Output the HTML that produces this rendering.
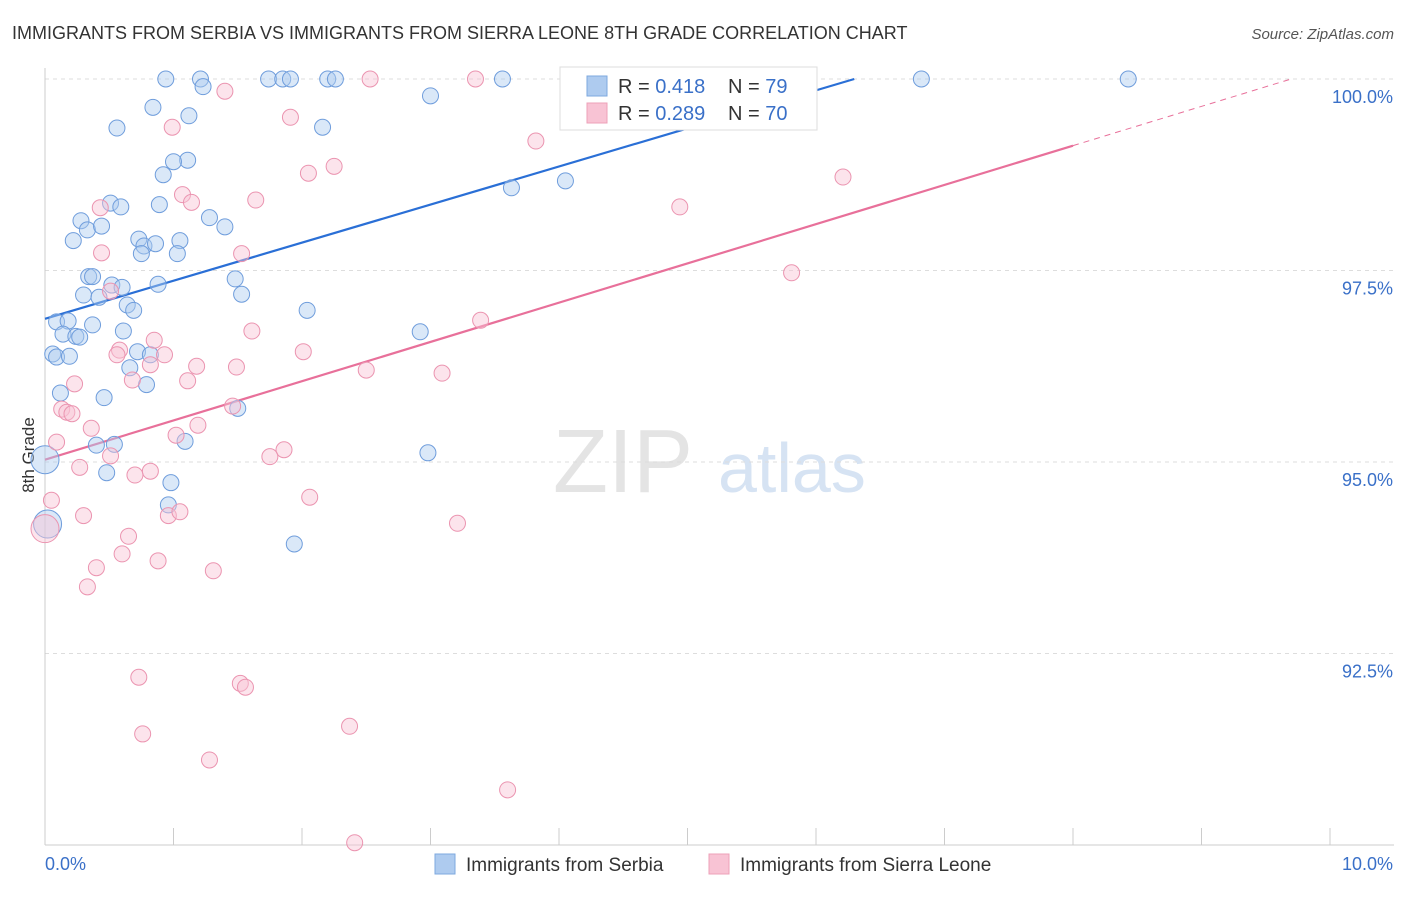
<!DOCTYPE html>
<html><head><meta charset="utf-8"><style>
body{margin:0;background:#fff;font-family:"Liberation Sans",sans-serif;}
svg text{font-family:"Liberation Sans",sans-serif;}
</style></head><body>
<svg id="chart" width="1406" height="892" xmlns="http://www.w3.org/2000/svg">
<text x="12" y="39" font-size="18" fill="#333">IMMIGRANTS FROM SERBIA VS IMMIGRANTS FROM SIERRA LEONE 8TH GRADE CORRELATION CHART</text>
<text x="1394" y="39" font-size="15" fill="#555" font-style="italic" text-anchor="end">Source: ZipAtlas.com</text>
<text x="34" y="455" font-size="17" fill="#333" transform="rotate(-90 34 455)" text-anchor="middle">8th Grade</text>
<g>
<text x="553" y="492" font-size="90" fill="#e4e4e4" font-family="Liberation Serif">ZIP</text>
<text x="718" y="492" font-size="70" fill="#d6e3f3">atlas</text>
</g>
<g id="grid"></g><g id="axes"></g><g id="trends"></g><g id="pts"></g>
<g>
<rect x="560" y="67" width="257" height="63" fill="#fff" stroke="#ddd"/>
<rect x="587" y="76" width="20" height="20" fill="#aecbef" stroke="#7ea8df"/>
<rect x="587" y="103" width="20" height="20" fill="#f8c3d4" stroke="#eea0b8"/>
<text x="618" y="93" font-size="20" fill="#333">R = <tspan fill="#3a70c8">0.418</tspan><tspan x="728">N = </tspan><tspan fill="#3a70c8">79</tspan></text>
<text x="618" y="120" font-size="20" fill="#333">R = <tspan fill="#3a70c8">0.289</tspan><tspan x="728">N = </tspan><tspan fill="#3a70c8">70</tspan></text>
</g>
<g>
<rect x="435" y="854" width="20" height="20" fill="#aecbef" stroke="#7ea8df"/>
<text x="466" y="871" font-size="19" fill="#333">Immigrants from Serbia</text>
<rect x="709" y="854" width="20" height="20" fill="#f8c3d4" stroke="#eea0b8"/>
<text x="740" y="871" font-size="19" fill="#333">Immigrants from Sierra Leone</text>
</g>
</svg>
<script>
const yTicks=[100,97.5,95,92.5];
const yTickLabels=["100.0%","97.5%","95.0%","92.5%"];
const xTickLabels=["0.0%","10.0%"];
const serbiaX=[0.94,1.21,1.23,1.74,1.85,1.91,2.20,2.26,3.56,6.82,8.43,3.00,0.84,1.12,0.56,2.16,1.11,1.00,0.92,3.63,4.05,0.51,0.59,0.89,0.28,0.33,0.44,1.28,1.40,0.22,0.73,0.77,0.86,1.05,0.75,1.03,0.34,0.37,1.48,0.52,0.60,0.88,0.30,0.42,1.53,0.64,0.69,2.04,0.09,0.18,0.37,0.61,0.14,0.24,0.27,2.92,0.06,0.09,0.19,0.72,0.82,0.66,0.79,0.12,0.46,1.50,0.40,0.54,1.09,2.98,0.00,0.48,0.98,0.96,1.94,0.02];
const serbiaY=[100,100,99.9,100,100,100,100,100,100,100,100,99.78,99.63,99.52,99.36,99.37,98.94,98.92,98.75,98.58,98.67,98.38,98.33,98.36,98.15,98.03,98.08,98.19,98.07,97.89,97.91,97.82,97.85,97.89,97.72,97.72,97.42,97.42,97.39,97.31,97.28,97.32,97.18,97.15,97.19,97.05,96.98,96.98,96.83,96.84,96.79,96.71,96.67,96.64,96.63,96.70,96.41,96.37,96.38,96.44,96.40,96.23,96.01,95.90,95.84,95.70,95.22,95.23,95.27,95.12,95.03,94.86,94.73,94.44,93.93,94.19];
const leoneX=[2.53,3.35,1.40,1.91,0.99,3.82,2.25,2.05,6.21,1.07,1.14,1.64,0.43,4.94,1.53,0.44,5.81,0.51,1.61,3.39,0.85,0.58,0.56,0.93,2.01,0.82,1.18,1.49,2.50,3.09,0.68,1.11,0.23,1.46,0.13,0.17,0.21,1.19,0.36,1.02,0.09,1.86,1.75,0.51,0.27,0.82,0.70,0.05,2.06,0.30,0.96,1.05,3.21,0.00,0.65,0.60,0.40,0.88,1.31,0.33,0.73,1.52,1.56,2.37,0.76,1.28,3.60,2.41];
const leoneY=[100,100,99.84,99.50,99.37,99.19,98.86,98.77,98.72,98.49,98.39,98.42,98.32,98.33,97.72,97.73,97.47,97.23,96.71,96.85,96.59,96.46,96.40,96.40,96.44,96.27,96.25,96.24,96.20,96.16,96.07,96.06,96.02,95.73,95.69,95.65,95.63,95.48,95.44,95.35,95.26,95.16,95.07,95.08,94.93,94.88,94.83,94.50,94.54,94.30,94.30,94.35,94.20,94.13,94.03,93.80,93.62,93.71,93.58,93.37,92.19,92.11,92.06,91.55,91.45,91.11,90.72,90.03];
const serbiaTrend=[96.87,0.497];
const leoneTrend=[95.03,0.5125];
const NS="http://www.w3.org/2000/svg";
const X0=45,XS=128.5,Y0=79,YS=76.6;
const sx=v=>X0+v*XS, sy=v=>Y0+(100-v)*YS;
function mk(tag,attrs,parent){const e=document.createElementNS(NS,tag);for(const k in attrs)e.setAttribute(k,attrs[k]);parent.appendChild(e);return e;}
const grid=document.getElementById('grid'),axes=document.getElementById('axes'),trends=document.getElementById('trends'),pts=document.getElementById('pts');
yTicks.forEach((t,i)=>{
 const l=mk('line',{x1:45,x2:1394,y1:sy(t),y2:sy(t),stroke:'#ddd','stroke-dasharray':'4,4'},grid);
 
 
 const tx=mk('text',{x:1393,y:sy(t)+24,'font-size':18,fill:'#3a70c8','text-anchor':'end'},axes);
 tx.textContent=yTickLabels[i];
 
 
});
const ax=mk('line',{x1:45,x2:45,y1:68,y2:845,stroke:'#ccc'},axes);


const bx=mk('line',{x1:45,x2:1394,y1:845,y2:845,stroke:'#ccc'},axes);


for(let i=0;i<=10;i++){
 const t=mk('line',{x1:sx(i),x2:sx(i),y1:828,y2:845,stroke:'#ccc'},axes);
 
 
}
[[0,'start'],[10,'end']].forEach((p,i)=>{
 const t=mk('text',{x:i?1393:45,y:870,'font-size':18,fill:'#3a70c8','text-anchor':p[1]},axes);
 t.textContent=xTickLabels[i];
 
 
});
function drawPts(xs,ys,fill,stroke,name){
 xs.forEach((x,i)=>{
  const big=x<0.03;
  const c=mk('circle',{cx:sx(x),cy:sy(ys[i]),r:big?14:8,fill:fill,'fill-opacity':0.45,stroke:stroke,'stroke-width':1},pts);
  
  
 });
}
drawPts(serbiaX,serbiaY,'#aecbef','#6f9ddc','serbia-point');
drawPts(leoneX,leoneY,'#f8c3d4','#eb94b0','sierra-leone-point');
const bEnd=(100-serbiaTrend[0])/serbiaTrend[1];
const bl=mk('line',{x1:sx(0),y1:sy(serbiaTrend[0]),x2:sx(bEnd),y2:sy(100),stroke:'#2a6fd6','stroke-width':2.2},trends);


const pl=mk('line',{x1:sx(0),y1:sy(leoneTrend[0]),x2:sx(8),y2:sy(leoneTrend[0]+8*leoneTrend[1]),stroke:'#e8709a','stroke-width':2.2},trends);


const pEnd=(100-leoneTrend[0])/leoneTrend[1];
const pd=mk('line',{x1:sx(8),y1:sy(leoneTrend[0]+8*leoneTrend[1]),x2:sx(pEnd),y2:sy(100),stroke:'#e8709a','stroke-width':1,'stroke-dasharray':'6,5'},trends);


</script>
</body></html>
